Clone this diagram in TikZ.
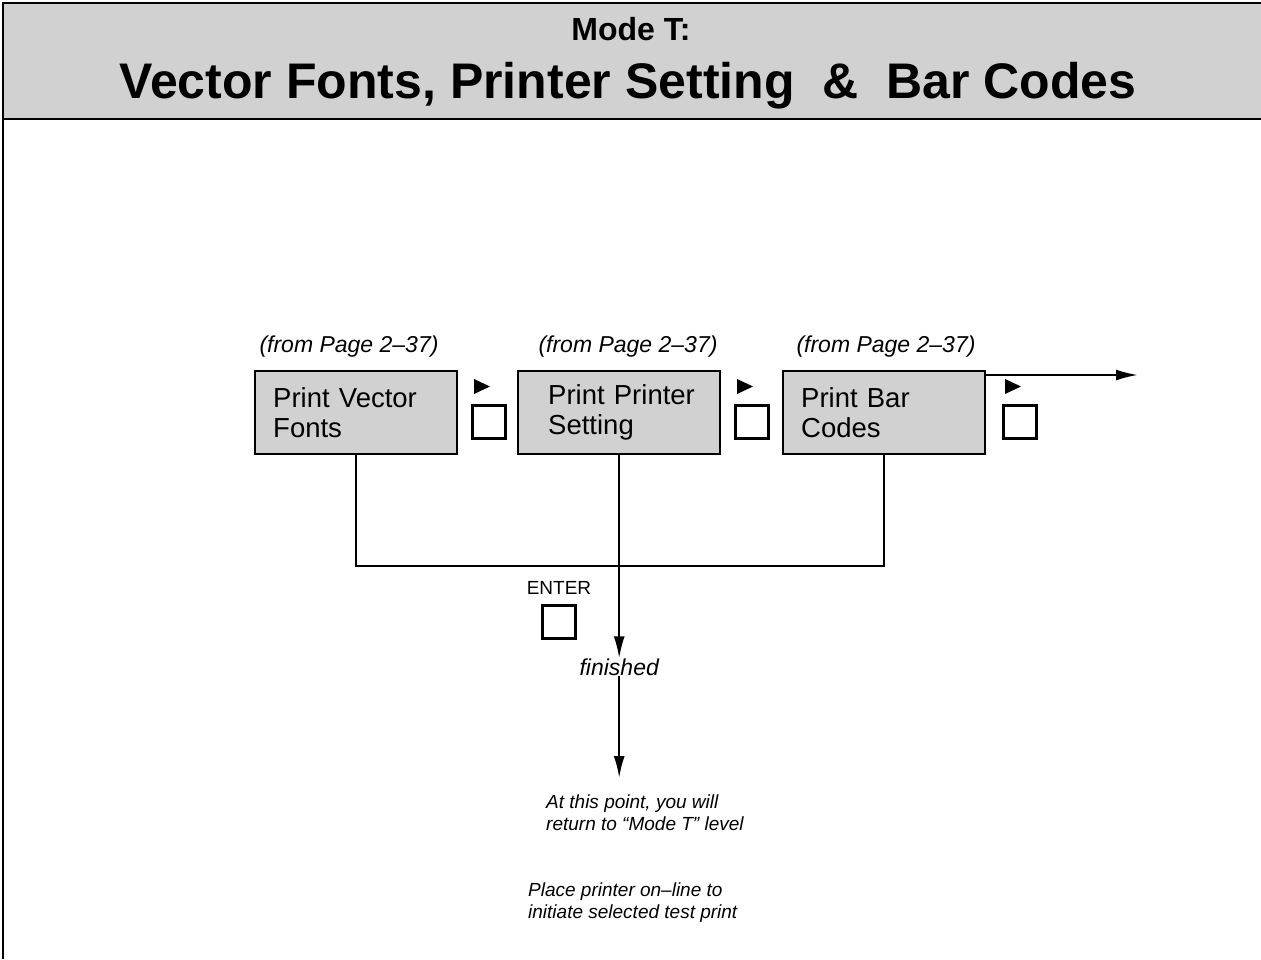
\documentclass[tikz,border=0pt]{standalone}
\usepackage{fontspec}
\setmainfont{Liberation Sans}
\usetikzlibrary{arrows.meta}
\begin{document}
\begin{tikzpicture}[x=1pt,y=-1pt,
  frame/.style={line width=2.5pt},
  box/.style={draw,line width=2.4pt,fill=black!18,anchor=north west,minimum height=83pt,
    inner xsep=18pt,text width=166pt,align=left,font=\fontsize{27.5}{30}\selectfont},
  lab/.style={font=\itshape\fontsize{23}{26}\selectfont,anchor=base,inner sep=0pt},
  btn/.style={draw,line width=2.2pt,minimum width=33pt,minimum height=33pt,inner sep=0pt},
  conn/.style={line width=2.2pt},
  arr/.style={line width=2.2pt,-{Latex[length=22pt,width=11pt]}},
  note/.style={font=\itshape\fontsize{19}{22}\selectfont,align=left,anchor=north west,inner sep=0pt}]
\useasboundingbox (0,0) rectangle (1261,959);
% header
\fill[black!18] (3,3) rectangle (1261,119);
\draw[frame] (1261,3) -- (3,3) -- (3,959);
\draw[frame] (3,119) -- (1261,119);
\node[font=\bfseries\fontsize{32}{36}\selectfont,anchor=base,inner sep=0pt] (mode) at (631,40) {Mode T:};
\node[font=\bfseries\fontsize{50}{54}\selectfont,anchor=base,inner sep=0pt] (title) at (628,98) {Vector Fonts, Printer Setting\ \ \&\ \ Bar Codes};
% labels
\node[lab] (l1) at (349,352) {(from Page 2--37)};
\node[lab] (l2) at (628,352) {(from Page 2--37)};
\node[lab] (l3) at (886,352) {(from Page 2--37)};
% boxes
\node[box] (b1) at (254,370) {Print Vector\\Fonts};
\node[box,inner xsep=0pt,text width=202pt] (b2) at (517,370) {\hspace*{30pt}Print Printer\\\hspace*{30pt}Setting};
\node[box] (b3) at (782,370) {Print Bar\\Codes};
% buttons
\node[btn] (k1) at (489,422) {};
\node[btn] (k2) at (752,422) {};
\node[btn] (k3) at (1020,422) {};
\foreach \k in {k1,k2,k3}{
  \fill ([shift={(-15,-43)}]\k.center) -- ++(16,7.5) -- ++(-16,7.5) -- cycle;
}
% right arrow
\coordinate (out) at (1138,375);
\draw[arr] ([yshift=-5pt]b3.north east) -- (out);
% collecting lines
\coordinate (hl) at (0,566);
\draw[conn] (b1.south) -- (b1.south |- hl) -- (b3.south |- hl) -- (b3.south);
% enter
\node[font=\fontsize{19}{23}\selectfont,anchor=base,inner sep=0pt] (enter) at (559,594) {ENTER};
\node[btn] (ke) at (559,622) {};
% finished
\node[font=\itshape\fontsize{23}{26}\selectfont,inner sep=0pt] (fin) at (b2.south |- 0,667) {finished};
\draw[arr] (b2.south) -- (fin.north);
\coordinate (end) at (b2.south |- 0,778);
\draw[arr] (fin.south) -- (end);
% notes
\node[note] (n1) at (546,795) {At this point, you will\\return to “Mode T” level};
\node[note] (n2) at (528,883) {Place printer on--line to\\initiate selected test print};
\end{tikzpicture}
\end{document}
